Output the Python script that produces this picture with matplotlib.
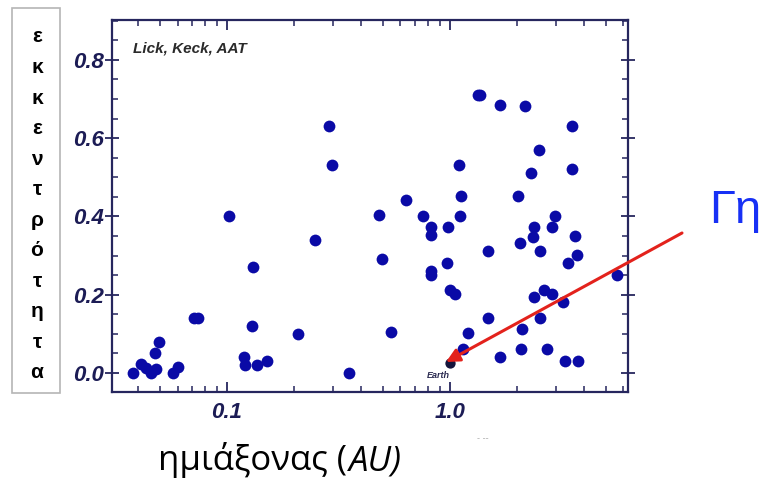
import numpy as np
import matplotlib
matplotlib.use('Agg')
import matplotlib.pyplot as plt
from matplotlib.patches import Rectangle
from matplotlib.ticker import FixedLocator, LogLocator, NullFormatter, MultipleLocator

# semi-major axis (AU) and eccentricity
semi_major = [0.102, 0.131, 0.071, 0.074, 0.130, 0.0497, 0.0474, 0.0378, 0.0413,
              0.0433, 0.0456, 0.0478, 0.0573, 0.0601, 0.119, 0.120, 0.137, 0.151,
              0.286, 0.295, 0.248, 0.209, 0.351, 0.637, 0.482, 0.757, 0.819, 0.819,
              0.98, 0.494, 0.82, 0.825, 0.966, 1.0, 1.05, 0.545,
              1.33, 1.37, 1.68, 2.18, 3.51, 2.51, 1.10, 2.30, 3.52, 1.12, 2.01,
              1.105, 2.95, 2.38, 2.87, 2.36, 3.64, 2.07, 1.486, 2.53, 3.70, 3.39,
              5.59, 2.65, 2.87, 2.39, 3.22, 1.486, 2.53, 1.20, 2.11, 1.15, 2.08,
              2.72, 1.68, 3.29, 3.76]
eccentricity = [0.40, 0.27, 0.14, 0.14, 0.12, 0.08, 0.05, 0.0, 0.023,
                0.012, 0.0, 0.011, 0.0, 0.016, 0.042, 0.02, 0.02, 0.031,
                0.632, 0.531, 0.34, 0.10, 0.0, 0.442, 0.403, 0.40, 0.373, 0.352,
                0.373, 0.29, 0.26, 0.25, 0.282, 0.212, 0.202, 0.104,
                0.711, 0.711, 0.684, 0.681, 0.632, 0.571, 0.531, 0.511, 0.522, 0.451, 0.452,
                0.40, 0.40, 0.372, 0.372, 0.347, 0.351, 0.332, 0.311, 0.311, 0.302, 0.28,
                0.25, 0.212, 0.202, 0.193, 0.181, 0.141, 0.141, 0.101, 0.112, 0.061, 0.061,
                0.061, 0.042, 0.031, 0.031]
earth_a = [1.0]
earth_e = [0.025]

x_ticks = [0.1, 1.0]
x_tick_labels = ['0.1', '1.0']
y_ticks = [0.0, 0.2, 0.4, 0.6, 0.8]
y_tick_labels = ['0.0', '0.2', '0.4', '0.6', '0.8']
side_letters = list('εκκεντρότητα')

W, H = 763, 482
navy = '#26265e'
tick_font = dict(family='Liberation Sans', weight='bold', style='italic', size=16)

fig = plt.figure(figsize=(W / 100, H / 100), dpi=100)
ax = fig.add_axes([112 / W, 1 - 392 / H, (628 - 112) / W, (392 - 20) / H])

ax.scatter(semi_major, eccentricity, s=72, color='#0a0aa6', linewidths=0, zorder=3)
ax.scatter(earth_a, earth_e, s=55, color='#14143c', linewidths=0, zorder=3)

ax.set_xscale('log')
ax.set_xlim(0.0305, 6.29)
ax.set_ylim(-0.0486, 0.902)

ax.xaxis.set_major_locator(FixedLocator(x_ticks))
ax.set_xticklabels(x_tick_labels)
ax.xaxis.set_minor_locator(LogLocator(base=10, subs=np.arange(2, 10)))
ax.xaxis.set_minor_formatter(NullFormatter())
ax.set_yticks(y_ticks)
ax.set_yticklabels(y_tick_labels)
ax.yaxis.set_minor_locator(MultipleLocator(0.05))

for sp in ax.spines.values():
    sp.set_color(navy)
    sp.set_linewidth(1.6)

ax.tick_params(axis='both', which='both', direction='in', color=navy, top=True, right=True,
               labelcolor='#1c1c55')
ax.tick_params(axis='both', which='major', length=7, width=1.3)
ax.tick_params(axis='both', which='minor', length=4, width=1.1)
ax.tick_params(axis='y', which='major', direction='inout', length=10, pad=1)
ax.tick_params(axis='x', which='major', pad=7)
for lab in ax.get_xticklabels() + ax.get_yticklabels():
    lab.set_fontproperties(matplotlib.font_manager.FontProperties(**tick_font))

ax.text(0.041, 0.942, 'Lick, Keck, AAT', transform=ax.transAxes, ha='left', va='top',
        fontsize=11, family='Liberation Sans', weight='bold', style='italic', color='#2a2a2a')
ax.text(1.0, -0.012, 'Earth', ha='right', va='baseline', fontsize=6.5,
        family='Liberation Sans', weight='bold', style='italic', color='#2a2a50')

# vertical Greek label in a box
fig.patches.append(Rectangle((12 / W, 1 - 393 / H), 48 / W, 385 / H, transform=fig.transFigure,
                             fill=False, edgecolor='#b5b5b5', linewidth=1.2))
for i, ch in enumerate(side_letters):
    y = 37 + i * (373 - 37) / (len(side_letters) - 1)
    fig.text(37 / W, 1 - y / H, ch, ha='center', va='center', fontsize=15,
             family='Liberation Sans', weight='bold', color='black')

# x label with italic unit, the italic part placed right after the upright part
xl = fig.text(158 / W, 1 - 470 / H, 'ημιάξονας (', ha='left', va='baseline', fontsize=25,
              family='Open Sans', color='black')
fig.canvas.draw()
x_end = xl.get_window_extent().x1
fig.text(x_end / W + 2 / W, 1 - 470 / H, 'AU)', ha='left', va='baseline', fontsize=25,
         family='Open Sans', style='italic', color='black')

fig.text(477 / W, 1 - 441 / H, '- --', ha='left', va='baseline', fontsize=6, color='#b0b0b0')

# Earth callout
fig.text(709 / W, 1 - 223 / H, 'Γη', ha='left', va='baseline', fontsize=34,
         family='Liberation Sans', color='#1730f5')
ax.annotate('', xy=(446, H - 362), xycoords='figure pixels',
            xytext=(682, H - 233), textcoords='figure pixels',
            arrowprops=dict(arrowstyle='-|>', color='#e3221c', lw=2.2, mutation_scale=20,
                            shrinkA=0, shrinkB=0), annotation_clip=False)

fig.savefig('out.png', dpi=100)
